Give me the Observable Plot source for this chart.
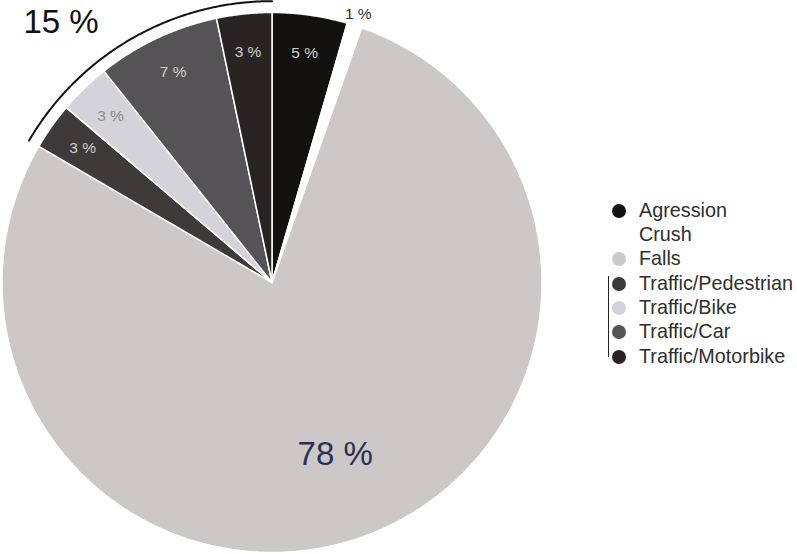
<!DOCTYPE html>
<html>
<head>
<meta charset="utf-8">
<script src="https://cdn.jsdelivr.net/npm/d3@7"></script>
<script src="https://cdn.jsdelivr.net/npm/@observablehq/plot@0.6"></script>
<style>
  body { margin: 0; background: #fff; font-family: "Liberation Sans", Arial, sans-serif; }
  #wrap { position: relative; width: 797px; height: 554px; overflow: hidden; }
  #chart { position: absolute; left: 0; top: 0; }
  #legend { position: absolute; left: 609px; top: 197.8px; color: #2e2e2e; font-size: 19.8px; }
  .row { position: relative; height: 24.3px; line-height: 24.3px; padding-left: 30px; white-space: nowrap; }
  .dot { position: absolute; left: 3px; top: 6px; width: 14px; height: 14px; border-radius: 50%; }
  #bracket { position: absolute; left: 607.5px; width: 1.6px; background: #222; }
</style>
</head>
<body>
<div id="wrap">
  <div id="chart"></div>
  <div id="legend"></div>
  <div id="bracket"></div>
</div>
<script>
// ---- data ----
const categories = ["Agression", "Crush", "Falls", "Traffic/Pedestrian", "Traffic/Bike", "Traffic/Car", "Traffic/Motorbike"];
const values = [4.5, 0.9, 78.1, 2.8, 3.1, 7.4, 3.3];
const labels = ["5 %", "1 %", "78 %", "3 %", "3 %", "7 %", "3 %"];
const colors = ["#141210", "#ffffff", "#cbc8c7", "#3d3a39", "#d3d3d9", "#555355", "#282424"];
const labelColors = ["#cfcfcf", "#333333", "#2b3152", "#cfcfcf", "#8a8a90", "#cfcfcf", "#cfcfcf"];
const groupMembers = ["Traffic/Pedestrian", "Traffic/Bike", "Traffic/Car", "Traffic/Motorbike"];
const groupLabel = "15 %";

// ---- geometry from data ----
const rows = categories.map((c, i) => ({category: c, value: values[i], label: labels[i], labelColor: labelColors[i]}));
const arcs = d3.pie().sort(null).value(d => d.value)(rows);
const polar = (a, r) => ({x: r * Math.sin(a), y: r * Math.cos(a)});

const slicePts = [];
arcs.forEach(a => {
  const c = a.data.category;
  const n = Math.max(2, Math.ceil((a.endAngle - a.startAngle) / 0.005));
  slicePts.push({category: c, ...polar(0, 0)});
  for (let k = 0; k <= n; k++) {
    const t = a.startAngle + (a.endAngle - a.startAngle) * k / n;
    slicePts.push({category: c, ...polar(t, 1)});
  }
  slicePts.push({category: c, ...polar(0, 0)});
});

const groupArcs = arcs.filter(a => groupMembers.includes(a.data.category));
const g0 = d3.min(groupArcs, a => a.startAngle), g1 = d3.max(groupArcs, a => a.endAngle);
const groupPts = d3.range(0, 201).map(k => polar(g0 + (g1 - g0) * k / 200, 1.042));

const labelMarks = arcs.map(a => {
  const mid = (a.startAngle + a.endAngle) / 2;
  const big = a.data.value > 50, tiny = a.data.value < 2;
  const r = big ? 0.68 : tiny ? 1.045 : 0.86;
  return Plot.text([{...polar(mid, r), text: a.data.label}], {
    x: "x", y: "y", text: "text",
    fill: a.data.labelColor,
    fontSize: big ? 33 : 15.5,
    fontFamily: "Liberation Sans, Arial, sans-serif"
  });
});

const chart = Plot.plot({
  width: 797,
  height: 554,
  margin: 0,
  style: {background: "transparent"},
  x: {domain: [-1, 1], range: [1.5, 541.5], axis: null},
  y: {domain: [-1, 1], range: [552, 12], axis: null},
  color: {type: "ordinal", domain: categories, range: colors},
  marks: [
    Plot.line(slicePts, {x: "x", y: "y", z: "category", fill: "category", stroke: "white", strokeWidth: 1.5, strokeLinejoin: "round", curve: "linear"}),
    Plot.line(groupPts, {x: "x", y: "y", stroke: "#111", strokeWidth: 2, curve: "linear"}),
    ...labelMarks,
    Plot.text([groupLabel], {frameAnchor: "top-left", dx: 60.5, dy: 22, textAnchor: "middle", lineAnchor: "middle", text: d => d, fontSize: 33, fill: "#111", fontFamily: "Liberation Sans, Arial, sans-serif"})
  ]
});
document.getElementById("chart").appendChild(chart);

// ---- legend ----
const legend = document.getElementById("legend");
const rowH = 24.3;
categories.forEach((c, i) => {
  const row = document.createElement("div");
  row.className = "row";
  const dot = document.createElement("span");
  dot.className = "dot";
  dot.style.background = colors[i];
  row.appendChild(dot);
  row.appendChild(document.createTextNode(c));
  legend.appendChild(row);
});
const first = categories.indexOf(groupMembers[0]);
const last = categories.indexOf(groupMembers[groupMembers.length - 1]);
const br = document.getElementById("bracket");
const top0 = 197.8;
br.style.top = (top0 + first * rowH + 5) + "px";
br.style.height = ((last - first) * rowH + 8) + "px";
</script>
</body>
</html>
